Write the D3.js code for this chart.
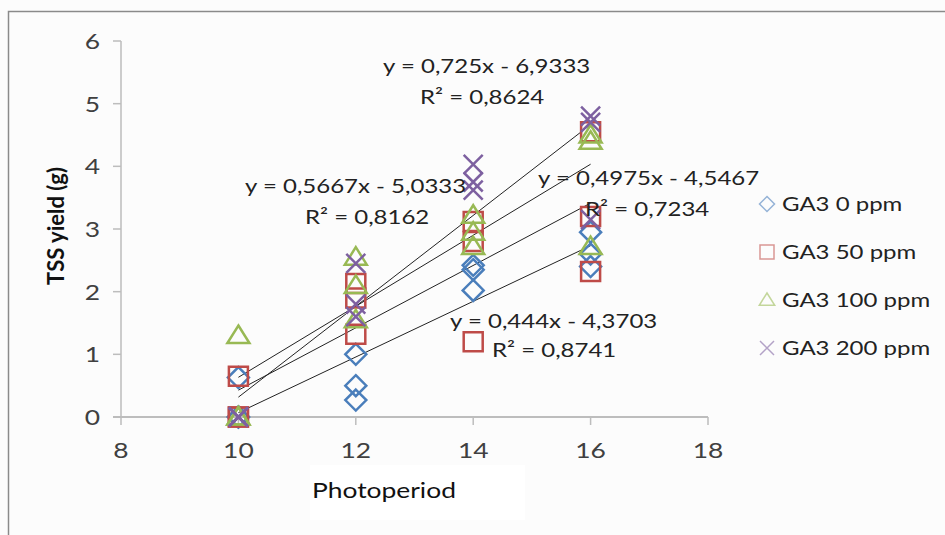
<!DOCTYPE html>
<html>
<head>
<meta charset="utf-8">
<script src="https://cdn.jsdelivr.net/npm/d3@7.9.0/dist/d3.min.js"></script>
<style>
  html, body { margin: 0; padding: 0; background: #fcfcfc; }
  svg { display: block; font-family: Lato, "Open Sans", sans-serif; }
</style>
</head>
<body>
<svg id="chart" width="945" height="535"></svg>
<script>
// photoperiod levels and readings (3 replicates per level)
const photoperiods = [10, 12, 14, 16];
const seriesNames = ['GA3 0 ppm', 'GA3 50 ppm', 'GA3 100 ppm', 'GA3 200 ppm'];
const ga3_0 = [[0.63, 0, 0], [1.0, 0.5, 0.27], [2.42, 2.35, 2.02], [2.95, 2.6, 2.4]];
const ga3_50 = [[0.65, 0, 0], [2.13, 1.9, 1.32], [3.12, 2.8, 1.2], [4.55, 3.2, 2.32]];
const ga3_100 = [[1.3, 0, 0], [2.55, 2.1, 1.55], [3.22, 2.95, 2.72], [4.5, 4.4, 2.72]];
const ga3_200 = [[0, 0, 0], [2.45, 1.8, 1.6], [4.03, 3.75, 3.62], [4.8, 4.7, 3.15]];

// linear trendlines as printed on the chart
const slopes = [0.444, 0.4975, 0.5667, 0.725];
const intercepts = [-4.3703, -4.5467, -5.0333, -6.9333];
const rSquared = [0.8741, 0.7234, 0.8162, 0.8624];

const xTicks = [8, 10, 12, 14, 16, 18];
const yTicks = [0, 1, 2, 3, 4, 5, 6];

const colors = ['#4a7ebb', '#be4b48', '#98b954', '#7d60a0'];
const legendColors = ['#95b3d7', '#d99694', '#c3d69b', '#b3a2c7'];
const STRETCH = 1.2;

const svg = d3.select('#chart');
const x = d3.scaleLinear().domain([8, 18]).range([121, 708]);
const y = d3.scaleLinear().domain([0, 6]).range([417, 41]);

// outer frame
svg.append('path')
    .attr('d', 'M8.5,540 V11.5 H950')
    .attr('fill', 'none').attr('stroke', '#8a8a8a').attr('stroke-width', 1.5);

// box behind axis title
svg.append('rect').attr('x', 310).attr('y', 465).attr('width', 215).attr('height', 55).attr('fill', '#ffffff');

function stretchedText(g, tx, ty, str, anchor) {
    return g.append('text')
        .attr('transform', `translate(${tx},${ty}) scale(${STRETCH},1)`)
        .attr('text-anchor', anchor || 'start')
        .text(str);
}

// axes
const axisColor = '#bdbdbd';
svg.append('line').attr('x1', x(8)).attr('x2', x(8)).attr('y1', y(6)).attr('y2', y(0))
    .attr('stroke', axisColor).attr('stroke-width', 1.5);
svg.append('line').attr('x1', x(8) - 8).attr('x2', x(18)).attr('y1', y(0)).attr('y2', y(0))
    .attr('stroke', axisColor).attr('stroke-width', 2);

const tickG = svg.append('g').attr('fill', '#404040').style('font-size', '22px');
yTicks.forEach(v => {
    svg.append('line').attr('x1', x(8) - 8).attr('x2', x(8)).attr('y1', y(v)).attr('y2', y(v))
        .attr('stroke', axisColor).attr('stroke-width', 1.5);
    stretchedText(tickG, 100, y(v) + 8, v, 'end');
});
xTicks.forEach(v => {
    svg.append('line').attr('x1', x(v)).attr('x2', x(v)).attr('y1', y(0)).attr('y2', y(0) + 8)
        .attr('stroke', axisColor).attr('stroke-width', 1.5);
    stretchedText(tickG, x(v), 458, v, 'middle');
});

// axis titles
svg.append('text')
    .attr('transform', 'translate(64,226) rotate(-90)')
    .attr('text-anchor', 'middle')
    .attr('font-weight', 'bold').attr('font-size', 22).attr('fill', '#111')
    .text('TSS yield (g)');
stretchedText(svg.append('g').attr('font-size', 22).attr('fill', '#111'), 312, 498, 'Photoperiod');

// marker shapes
function markerPath(kind, s) {
    if (kind === 0) return `M0,${-s} L${s},0 L0,${s} L${-s},0 Z`;
    if (kind === 1) return `M${-s},${-s} H${s} V${s} H${-s} Z`;
    if (kind === 2) return `M0,${-s} L${s * 1.1},${s * 0.75} H${-s * 1.1} Z`;
    return `M${-s},${-s} L${s},${s} M${s},${-s} L${-s},${s}`;
}
const markerSize = [10.5, 9.5, 10, 9.5];

// trendlines
const trendG = svg.append('g');
slopes.forEach((m, i) => {
    const x0 = d3.min(photoperiods), x1 = d3.max(photoperiods);
    trendG.append('line')
        .attr('x1', x(x0)).attr('y1', y(m * x0 + intercepts[i]))
        .attr('x2', x(x1)).attr('y2', y(m * x1 + intercepts[i]))
        .attr('stroke', '#222').attr('stroke-width', 1);
});

// points
[ga3_0, ga3_50, ga3_100, ga3_200].forEach((data, si) => {
    const pts = [];
    data.forEach((reps, k) => reps.forEach(v => pts.push([photoperiods[k], v])));
    svg.append('g').selectAll('path').data(pts).join('path')
        .attr('transform', d => `translate(${x(d[0])},${y(d[1])})`)
        .attr('d', markerPath(si, markerSize[si]))
        .attr('fill', 'none')
        .attr('stroke', colors[si])
        .attr('stroke-width', 2.5);
});

// trendline labels
const fmt = v => String(v).replace('.', ',');
const eqPos = [[450, 328, 492, 357], [538, 185, 585, 216], [245, 193, 305, 224], [383, 73, 420, 104]];
const eqG = svg.append('g').attr('font-size', 20).attr('fill', '#222');
slopes.forEach((m, i) => {
    const p = eqPos[i];
    stretchedText(eqG, p[0], p[1], `y = ${fmt(m)}x - ${fmt(-intercepts[i])}`);
    stretchedText(eqG, p[2], p[3], `R² = ${fmt(rSquared[i])}`);
});

// legend
const legG = svg.append('g').attr('font-size', 20).attr('fill', '#222');
const legSize = [7.5, 7, 7, 7];
seriesNames.forEach((name, i) => {
    const cy = 204 + i * 48;
    legG.append('path')
        .attr('transform', `translate(767,${cy})`)
        .attr('d', markerPath(i, legSize[i]))
        .attr('fill', 'none').attr('stroke', legendColors[i]).attr('stroke-width', 1.5);
    stretchedText(legG, 782, cy + 7, name);
});
</script>
</body>
</html>
